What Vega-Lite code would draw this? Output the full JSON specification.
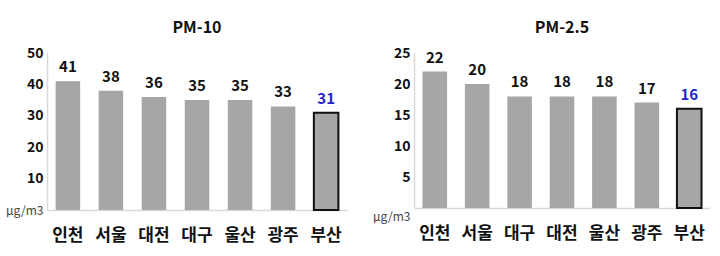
{
  "$schema": "https://vega.github.io/schema/vega-lite/v6.json",
  "padding": {"left": 5, "top": 20, "right": 0, "bottom": 8},
  "background": "white",
  "datasets": {
    "pm10": [
      {"city": "인천", "value": 41},
      {"city": "서울", "value": 38},
      {"city": "대전", "value": 36},
      {"city": "대구", "value": 35},
      {"city": "울산", "value": 35},
      {"city": "광주", "value": 33},
      {"city": "부산", "value": 31}
    ],
    "pm25": [
      {"city": "인천", "value": 22},
      {"city": "서울", "value": 20},
      {"city": "대구", "value": 18},
      {"city": "대전", "value": 18},
      {"city": "울산", "value": 18},
      {"city": "광주", "value": 17},
      {"city": "부산", "value": 16}
    ]
  },
  "config": {
    "view": {"stroke": null},
    "font": "Noto Sans CJK KR",
    "concat": {"spacing": 25},
    "title": {"fontSize": 16, "fontWeight": "bold", "color": "#111", "offset": 10, "anchor": "middle"},
    "axisX": {
      "title": null, "labelAngle": 0, "ticks": false, "domainColor": "#d9d9d9", "domainWidth": 1.5,
      "labelFontSize": 17, "labelFontWeight": "bold", "labelColor": "#111", "labelPadding": 17
    },
    "axisY": {
      "title": null, "grid": false, "ticks": false, "domainColor": "#d9d9d9", "domainWidth": 1.5,
      "labelPadding": 4, "labelColor": {"condition": {"test": "datum.value === 0", "value": "#444"}, "value": "#111"},
      "labelFontSize": {"condition": {"test": "datum.value === 0", "value": 12}, "value": 14},
      "labelFontWeight": {"condition": {"test": "datum.value === 0", "value": "normal"}, "value": "bold"},
      "labelExpr": "datum.value === 0 ? 'μg/m3' : datum.label"
    }
  },
  "hconcat": [
    {
      "data": {"name": "pm10"},
      "width": 300,
      "height": 157,
      "title": "PM-10",
      "encoding": {
        "x": {"field": "city", "type": "nominal", "sort": null, "scale": {"paddingInner": 0.43, "paddingOuter": 0.2}},
        "y": {"field": "value", "type": "quantitative", "scale": {"domain": [0, 50]}, "axis": {"values": [0, 10, 20, 30, 40, 50]}}
      },
      "layer": [
        {
          "mark": {"type": "bar", "color": "#a6a6a6", "stroke": "#111"},
          "encoding": {"strokeWidth": {"condition": {"test": "datum.city === '부산'", "value": 2}, "value": 0}}
        },
        {
          "mark": {"type": "text", "dy": -14, "fontSize": 15, "fontWeight": "bold"},
          "encoding": {
            "text": {"field": "value"},
            "color": {"condition": {"test": "datum.city === '부산'", "value": "#2525c8"}, "value": "#111"}
          }
        }
      ]
    },
    {
      "data": {"name": "pm25"},
      "width": 296,
      "height": 155,
      "title": "PM-2.5",
      "encoding": {
        "x": {"field": "city", "type": "nominal", "sort": null, "scale": {"paddingInner": 0.42, "paddingOuter": 0.2}},
        "y": {"field": "value", "type": "quantitative", "scale": {"domain": [0, 25]}, "axis": {"values": [0, 5, 10, 15, 20, 25], "labelOffset": {"condition": {"test": "datum.value === 0", "value": 8}, "value": 0}}}
      },
      "layer": [
        {
          "mark": {"type": "bar", "color": "#a6a6a6", "stroke": "#111"},
          "encoding": {"strokeWidth": {"condition": {"test": "datum.city === '부산'", "value": 2}, "value": 0}}
        },
        {
          "mark": {"type": "text", "dy": -14, "fontSize": 15, "fontWeight": "bold"},
          "encoding": {
            "text": {"field": "value"},
            "color": {"condition": {"test": "datum.city === '부산'", "value": "#2525c8"}, "value": "#111"}
          }
        }
      ]
    }
  ]
}
